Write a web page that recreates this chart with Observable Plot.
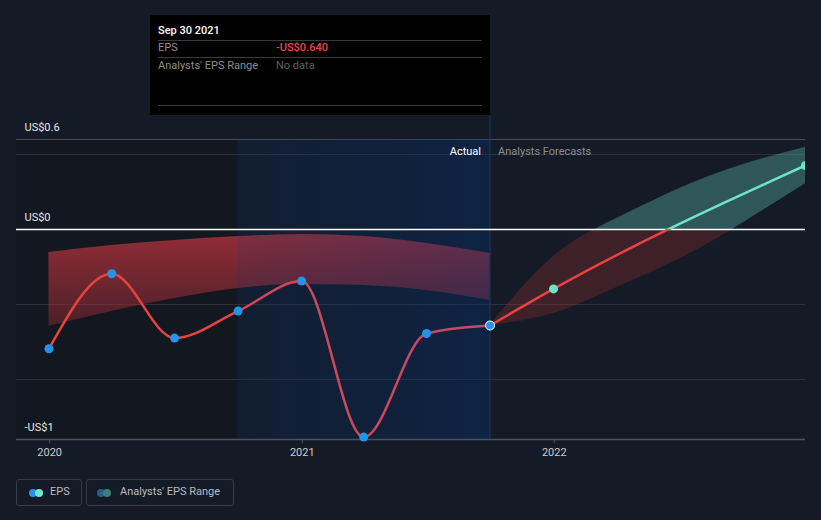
<!DOCTYPE html>
<html><head><meta charset="utf-8">
<script src="https://cdn.jsdelivr.net/npm/d3@7"></script>
<script src="https://cdn.jsdelivr.net/npm/@observablehq/plot@0.6"></script>
<style>
body{margin:0;background:#151b26;font-family:Roboto,"Noto Sans",sans-serif;}
#wrap{position:relative;width:821px;height:520px;overflow:hidden;background:#151b26}
#chart{position:absolute;left:0;top:0}
.tip{position:absolute;left:150px;top:15px;width:340px;height:100px;background:#000;}
.tip .t{position:absolute;font-size:11px;line-height:14px;white-space:nowrap}
.tip .hl{position:absolute;left:8px;width:324px;height:1px;background:#3a3a3a}
.lg{position:absolute;top:479px;height:25px;border:1px solid #363b45;border-radius:3px;box-sizing:content-box}
.lg .d{position:absolute;top:9px;width:8px;height:8px;border-radius:50%}
.lg .l{position:absolute;left:33px;top:5px;font-size:11px;line-height:14px;color:#b9bcc2;white-space:nowrap}
</style></head><body>
<div id="wrap">
<div id="chart"></div>
<div class="tip">
  <div class="t" style="left:8px;top:9px;color:#fff;font-weight:500">Sep 30 2021</div>
  <div class="hl" style="top:25px"></div>
  <div class="t" style="left:8px;top:26px;color:#8e8e8e">EPS</div>
  <div class="t" style="left:126px;top:26px;color:#e84848;font-weight:500">-US$0.640</div>
  <div class="hl" style="top:42px"></div>
  <div class="t" style="left:8px;top:44px;color:#8e8e8e">Analysts' EPS Range</div>
  <div class="t" style="left:126px;top:44px;color:#5e5e5e">No data</div>
  <div class="hl" style="top:90px"></div>
</div>
<div class="lg" style="left:16px;width:64px">
  <div class="d" style="left:12px;background:#2394e9"></div>
  <div class="d" style="left:18px;background:#6fe3d3"></div>
  <div class="l">EPS</div>
</div>
<div class="lg" style="left:86px;width:146px">
  <div class="d" style="left:10px;background:#2a5e85"></div>
  <div class="d" style="left:16px;background:#3d7e76"></div>
  <div class="l">Analysts' EPS Range</div>
</div>
</div>
<script>
// ---- data ----
const epsDates = ["2019-12-31","2020-03-31","2020-06-30","2020-09-30","2020-12-31","2021-03-31","2021-06-30","2021-09-30"];
const epsValues = [-0.795,-0.295,-0.724,-0.544,-0.344,-1.384,-0.693,-0.640];
const rangeLow  = [-0.647,-0.547,-0.460,-0.393,-0.367,-0.373,-0.407,-0.473];
const rangeHigh = [-0.153,-0.107,-0.073,-0.047,-0.033,-0.047,-0.093,-0.160];
const fcDates = ["2021-09-30","2021-12-31","2022-12-31"];
const fcValues = [-0.640,-0.396,0.427];
const fcRangeDates = ["2021-09-30","2021-12-31","2022-03-31","2022-06-30","2022-09-30","2022-12-31"];
const fcLow  = [-0.640,-0.560,-0.390,-0.200,0.040,0.305];
const fcHigh = [-0.640,-0.180,0.070,0.270,0.430,0.549];
const yLabelValues = [0.6, 0, -1.4];
const yLabelTexts = ["US$0.6","US$0","-US$1"];
const gridValues = [0.5,-0.5,-1];
const xTickDates = ["2020-01-01","2021-01-01","2022-01-01"];
const xTickTexts = ["2020","2021","2022"];
const xStart = "2019-11-14", xEnd = "2022-12-31";
const pastStart = "2020-09-30", actualEnd = "2021-09-30";

const D = s => new Date(s + "T00:00:00Z");
const eps = epsDates.map((d,i)=>({date:D(d), value:epsValues[i], low:rangeLow[i], high:rangeHigh[i]}));
const fc = fcDates.map((d,i)=>({date:D(d), value:fcValues[i]}));
const fcr = fcRangeDates.map((d,i)=>({date:D(d), low:fcLow[i], high:fcHigh[i]}));
const yLabels = yLabelValues.map((v,i)=>({v, t:yLabelTexts[i]}));
const xTicks = xTickDates.map((d,i)=>({date:D(d), t:xTickTexts[i]}));

function defs(index, scales) {
  const y0 = scales.y(0), yt = scales.y(0.6), yb = scales.y(-1.4);
  const off = (y0 - yt) / (yb - yt);
  const xa = scales.x(D(pastStart)), xb = scales.x(D(actualEnd));
  const g = d3.create("svg:g");
  const df = g.append("defs");
  const lg = (id, attrs, stops) => {
    const el = df.append("linearGradient").attr("id", id);
    for (const k in attrs) el.attr(k, attrs[k]);
    for (const [o,c,a] of stops) el.append("stop").attr("offset", o).attr("stop-color", c).attr("stop-opacity", a);
  };
  lg("histFill", {x1:0,y1:0,x2:0,y2:1}, [[0,"#a02f38",0.9],[1,"#9a2d35",0.42]]);
  lg("blueFill", {x1:0,y1:0,x2:1,y2:0}, [[0,"#00327f",0.12],[1,"#00327f",0.33]]);
  lg("fcFill", {gradientUnits:"userSpaceOnUse",x1:0,y1:yt,x2:0,y2:yb},
     [[0,"#50a096",0.45],[off,"#50a096",0.45],[off,"#c83232",0.23],[1,"#c83232",0.23]]);
  lg("fcStroke", {gradientUnits:"userSpaceOnUse",x1:0,y1:yt,x2:0,y2:yb},
     [[0,"#6de3cd",1],[off,"#6de3cd",1],[off,"#e5433f",1],[1,"#e5433f",1]]);
  const w = scales.x(D(xEnd));
  lg("actStroke", {gradientUnits:"userSpaceOnUse",x1:0,y1:0,x2:w,y2:0},
     [[0,"#e8433f",1],[xa/w,"#e8433f",1],[(xa+25)/w,"#d0475a",1],[xb/w,"#c8495e",1],[1,"#c8495e",1]]);
  return g.node();
}

const chart = Plot.plot({
  width: 821, height: 470,
  marginLeft: 16, marginRight: 16, marginTop: 139, marginBottom: 31,
  style: {background: "transparent", fontFamily: "Roboto, sans-serif", overflow: "visible"},
  x: {type: "utc", domain: [D(xStart), D(xEnd)], axis: null},
  y: {domain: [-1.4, 0.6], axis: null},
  marks: [
    defs,
    Plot.rect([{a: D(xStart), b: D(pastStart)}], {x1: "a", x2: "b", fill: "#000", fillOpacity: 0.14}),
    Plot.ruleY(gridValues, {stroke: "#2c313c", strokeWidth: 1}),
    Plot.ruleY([0.6], {stroke: "#474c57", strokeWidth: 1}),
    Plot.areaY(eps, {x: "date", y1: "low", y2: "high", curve: "monotone-x", fill: "url(#histFill)"}),
    Plot.areaY(fcr, {x: "date", y1: "low", y2: "high", curve: "natural", fill: "url(#fcFill)", clip: true}),
    Plot.rect([{a: D(pastStart), b: D(actualEnd)}], {x1: "a", x2: "b", fill: "url(#blueFill)"}),
    Plot.ruleX([D(actualEnd)], {stroke: "#1f3a5e", strokeWidth: 1, insetTop: -24}),
    Plot.ruleY([0], {stroke: "#ffffff", strokeWidth: 1.5}),
    Plot.ruleY([-1.4], {stroke: "#4d525d", strokeWidth: 1.5}),
    Plot.ruleX(xTicks, {x: "date", stroke: "#4d525d", insetTop: 300, insetBottom: -4}),
    Plot.line(eps, {x: "date", y: "value", curve: "monotone-x", stroke: "url(#actStroke)", strokeWidth: 2.5}),
    Plot.line(fc, {x: "date", y: "value", curve: "monotone-x", stroke: "url(#fcStroke)", strokeWidth: 2.5, clip: true}),
    Plot.dot(eps.slice(0, -1), {x: "date", y: "value", r: 4.5, fill: "#2394e9"}),
    Plot.dot(eps.slice(-1), {x: "date", y: "value", r: 4.5, fill: "#2394e9", stroke: "#ffffff", strokeWidth: 1}),
    Plot.dot(fc.slice(1), {x: "date", y: "value", r: 4.5, fill: "#6de3cd", clip: true}),
    Plot.text(yLabels, {y: "v", text: "t", frameAnchor: "left", dx: 8, dy: -12, textAnchor: "start", fill: "#e4e5e8", fontSize: 11}),
    Plot.text(xTicks, {x: "date", y: -1.4, text: "t", dy: 13, fill: "#c9cbd0", fontSize: 11}),
    Plot.text(["Actual"], {x: D(actualEnd), y: 0.6, text: d => d, dx: -9, dy: 12, textAnchor: "end", fill: "#ffffff", fontSize: 11}),
    Plot.text(["Analysts Forecasts"], {x: D(actualEnd), y: 0.6, text: d => d, dx: 8, dy: 12, textAnchor: "start", fill: "#8b8e95", fontSize: 11})
  ]
});
document.getElementById("chart").appendChild(chart);
</script>
</body></html>
